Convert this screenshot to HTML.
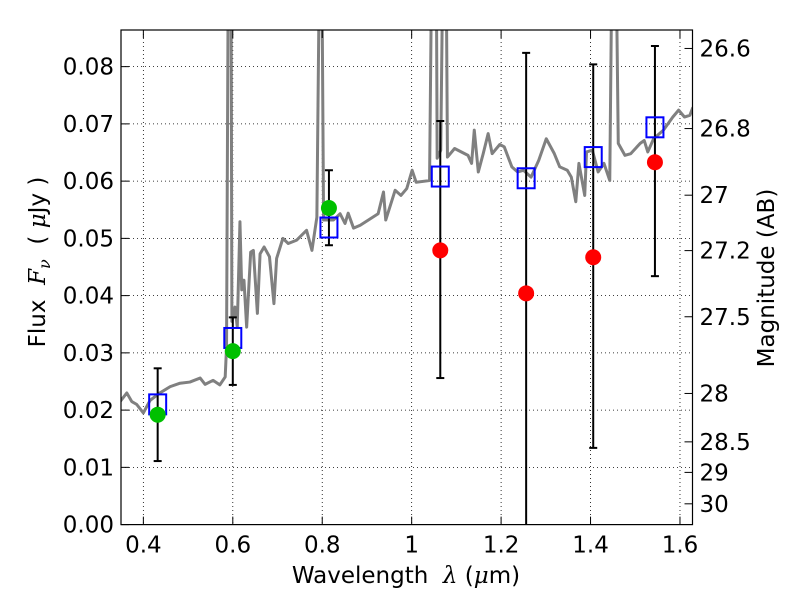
<!DOCTYPE html>
<html><head><meta charset="utf-8"><style>
html,body{margin:0;padding:0;background:#fff;}
svg{display:block;font-family:"DejaVu Sans","Liberation Sans",sans-serif;}
</style></head><body>
<svg id="chart" width="800" height="600"></svg>
<script>
const specLam=[0.348,0.363,0.374,0.385,0.400,0.415,0.437,0.460,0.482,0.504,0.527,0.538,0.556,0.571,0.583,0.586,0.590,0.596,0.598,0.605,0.610,0.616,0.620,0.625,0.631,0.640,0.646,0.655,0.661,0.670,0.682,0.692,0.698,0.712,0.724,0.743,0.765,0.777,0.788,0.794,0.799,0.803,0.825,0.840,0.851,0.858,0.870,0.885,0.925,0.937,0.942,0.963,0.976,0.989,1.001,1.010,1.040,1.045,1.055,1.057,1.065,1.070,1.077,1.080,1.096,1.126,1.134,1.140,1.149,1.160,1.171,1.180,1.197,1.207,1.224,1.237,1.250,1.267,1.284,1.301,1.319,1.331,1.348,1.357,1.367,1.374,1.387,1.391,1.404,1.417,1.430,1.443,1.448,1.457,1.462,1.477,1.490,1.511,1.520,1.528,1.541,1.563,1.584,1.597,1.610,1.622,1.629];
const specFlux=[0.0215,0.0230,0.0215,0.0210,0.0195,0.0217,0.0230,0.0241,0.0247,0.0249,0.0256,0.0245,0.0252,0.0244,0.0258,0.031,0.1,0.1,0.0355,0.038,0.0345,0.0529,0.041,0.0427,0.0345,0.0476,0.0479,0.0369,0.0473,0.0485,0.0468,0.0386,0.0465,0.0500,0.0491,0.0497,0.0514,0.0479,0.0537,0.1,0.1,0.0532,0.0532,0.0543,0.0526,0.0544,0.0518,0.0523,0.0543,0.0581,0.0532,0.0584,0.0575,0.0587,0.0619,0.0598,0.0601,0.1,0.1,0.064,0.0654,0.1,0.1,0.0642,0.0657,0.0645,0.0631,0.0689,0.0616,0.0648,0.0683,0.0648,0.0664,0.066,0.0625,0.0616,0.0619,0.0607,0.0636,0.0674,0.0648,0.0625,0.0619,0.0607,0.0564,0.0631,0.0575,0.0651,0.0654,0.0616,0.0631,0.0601,0.1,0.1,0.0666,0.0645,0.0648,0.0666,0.0671,0.0651,0.0674,0.0689,0.0712,0.0724,0.0712,0.0715,0.0729];
const obsLam=[0.432,0.600,0.815,1.064,1.256,1.406,1.544];
const obsFlux=[0.0192,0.0303,0.0553,0.0479,0.0404,0.0467,0.0633];
const obsHi=[0.0273,0.0362,0.0619,0.0705,0.0824,0.0804,0.0836];
const obsLo=[0.0111,0.0244,0.0488,0.0256,-0.01,0.0134,0.0434];
const modelFlux=[0.021,0.0326,0.0519,0.0608,0.0605,0.0642,0.0694];
const xTicks=[0.4,0.6,0.8,1.0,1.2,1.4,1.6];
const xTickLabels=["0.4","0.6","0.8","1","1.2","1.4","1.6"];
const yTicks=[0,0.01,0.02,0.03,0.04,0.05,0.06,0.07,0.08];
const yTickLabels=["0.00","0.01","0.02","0.03","0.04","0.05","0.06","0.07","0.08"];
const magTicks=[26.6,26.8,27,27.2,27.5,28,28.5,29,30];
const magTickLabels=["26.6","26.8","27","27.2","27.5","28","28.5","29","30"];

const NS="http://www.w3.org/2000/svg";
const svg=document.getElementById('chart');
const L=121,R=692.5,T=30,B=524.6,X0=0.35,X1=1.628,Y0=0,Y1=0.0864;
const FS=23;
const sx=v=>L+(v-X0)/(X1-X0)*(R-L);
const sy=v=>B-(v-Y0)/(Y1-Y0)*(B-T);
function mk(tag,attrs,parent){const e=document.createElementNS(NS,tag);for(const k in attrs)e.setAttribute(k,attrs[k]);(parent||svg).appendChild(e);return e;}

const defs=mk('defs',{});
const cp=mk('clipPath',{id:'clip'},defs);
mk('rect',{x:L,y:T,width:R-L,height:B-T},cp);

const grid=mk('g',{stroke:'#000','stroke-width':0.8,'stroke-dasharray':'1,3'});


xTicks.forEach(v=>mk('line',{x1:sx(v),x2:sx(v),y1:T,y2:B},grid));
yTicks.forEach(v=>mk('line',{x1:L,x2:R,y1:sy(v),y2:sy(v)},grid));

const plot=mk('g',{'clip-path':'url(#clip)'});
const sp=mk('polyline',{points:specLam.map((l,i)=>sx(l)+','+sy(specFlux[i])).join(' '),fill:'none',stroke:'#808080','stroke-width':3,'stroke-linejoin':'round'},plot);



obsLam.forEach((l,i)=>{
  const g=mk('g',{stroke:'#000','stroke-width':2},plot);
  
  
  const x=sx(l);
  mk('line',{x1:x,x2:x,y1:sy(obsHi[i]),y2:sy(obsLo[i])},g);
  mk('line',{x1:x-4,x2:x+4,y1:sy(obsHi[i]),y2:sy(obsHi[i])},g);
  mk('line',{x1:x-4,x2:x+4,y1:sy(obsLo[i]),y2:sy(obsLo[i])},g);
});
obsLam.forEach((l,i)=>{
  const r=mk('rect',{x:sx(l)-8.5,y:sy(modelFlux[i])-10,width:17,height:20,fill:'none',stroke:'#0000ff','stroke-width':2},plot);
  
  
});
obsLam.forEach((l,i)=>{
  const c=mk('circle',{cx:sx(l),cy:sy(obsFlux[i]),r:8,fill:i<3?'#00c000':'#ff0000'},plot);
  
  
});

const fr=mk('rect',{x:L,y:T,width:R-L,height:B-T,fill:'none',stroke:'#000','stroke-width':1.2});



const tk=mk('g',{stroke:'#000','stroke-width':1});
xTicks.forEach((v,i)=>{
  mk('line',{x1:sx(v),x2:sx(v),y1:B,y2:B-8},tk);
  mk('line',{x1:sx(v),x2:sx(v),y1:T,y2:T+8},tk);
  const t=mk('text',{x:sx(v),y:B+28,'text-anchor':'middle','font-size':FS});
  t.textContent=xTickLabels[i];
  
  
});
yTicks.forEach((v,i)=>{
  mk('line',{x1:L,x2:L+8,y1:sy(v),y2:sy(v)},tk);
  const t=mk('text',{x:L-7,y:sy(v)+8,'text-anchor':'end','font-size':FS});
  t.textContent=yTickLabels[i];
  
  
});
magTicks.forEach((m,i)=>{
  const f=Math.pow(10,-(m-23.9)/2.5);
  const y=sy(f);
  mk('line',{x1:R,x2:R-8,y1:y,y2:y},tk);
  const t=mk('text',{x:R+7,y:y+8,'font-size':FS});
  t.textContent=magTickLabels[i];
  
  
});

const xl=mk('text',{x:406,y:583,'text-anchor':'middle','font-size':FS});
xl.innerHTML='Wavelength&#160;&#160;<tspan font-style="italic" font-family="DejaVu Serif,serif">λ</tspan> (<tspan font-style="italic" font-family="DejaVu Serif,serif">μ</tspan>m)';


const yl=mk('text',{x:0,y:0,'text-anchor':'middle','font-size':FS,transform:'translate(45,262) rotate(-90)'});
yl.innerHTML='Flux&#160;&#160;<tspan font-style="italic" font-family="DejaVu Serif,serif">F</tspan><tspan font-style="italic" font-size="16" dy="5" font-family="DejaVu Serif,serif">ν</tspan><tspan dy="-5">&#160;&#160;(&#160;</tspan><tspan font-style="italic" font-family="DejaVu Serif,serif">μ</tspan>Jy )';


const rl=mk('text',{x:0,y:0,'text-anchor':'middle','font-size':FS,transform:'translate(774,278) rotate(-90)'});
rl.textContent='Magnitude (AB)';


</script>
</body></html>
